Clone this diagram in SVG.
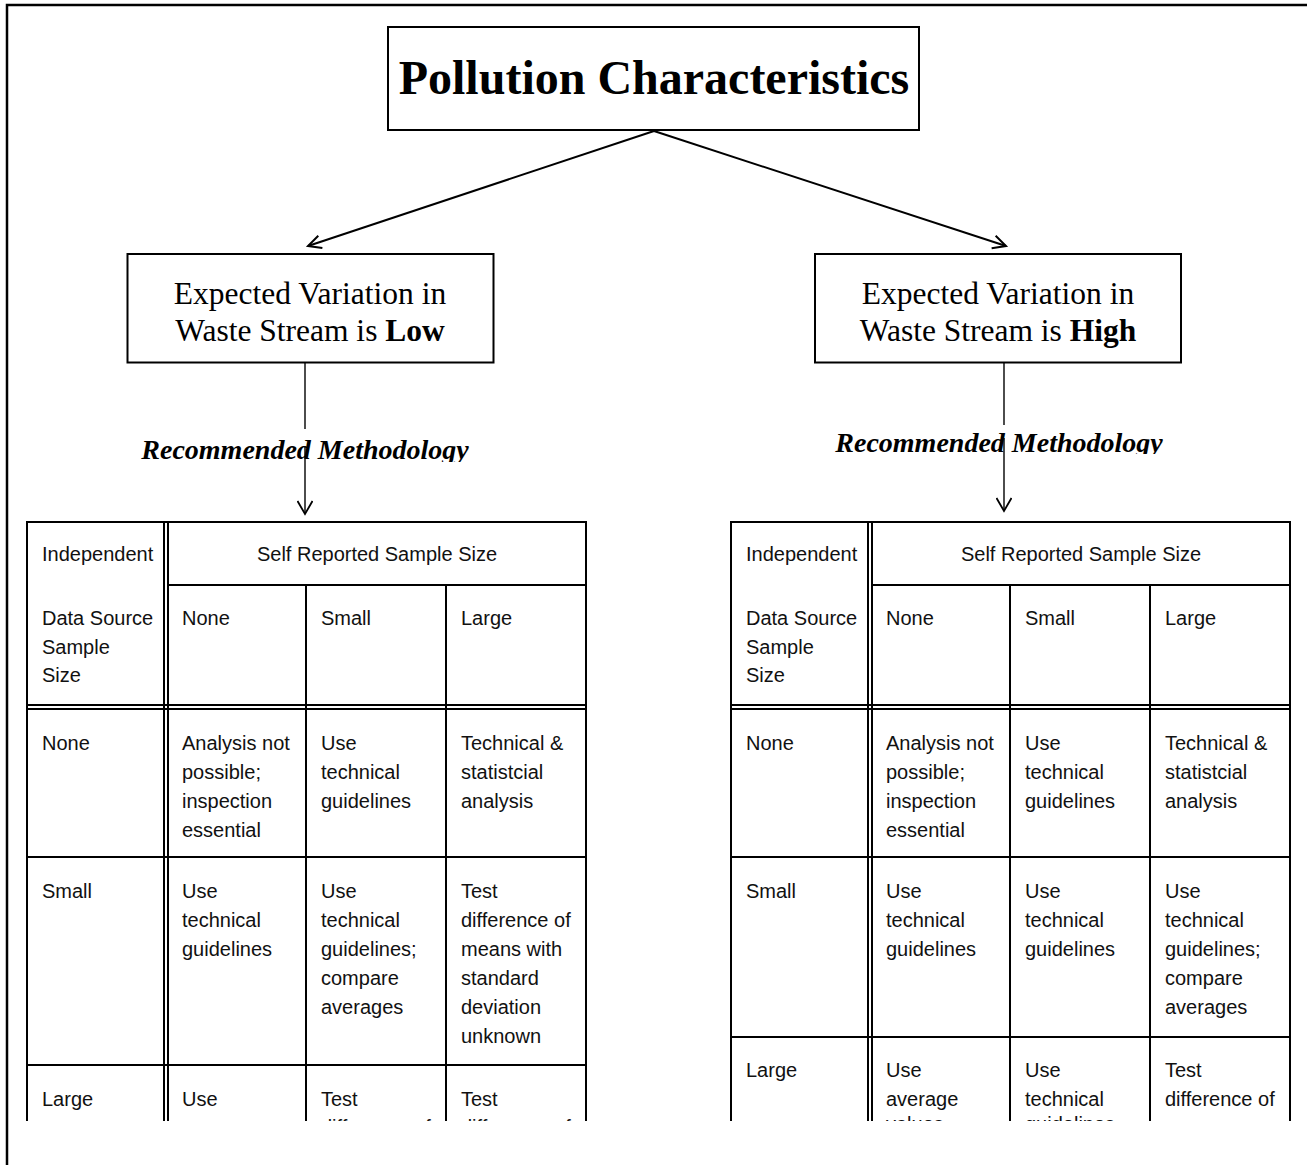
<svg xmlns="http://www.w3.org/2000/svg" width="1307" height="1165" viewBox="0 0 1307 1165">
<style>
.frame{fill:none;stroke:#000;stroke-width:2.5}
.box{fill:#fff;stroke:#000;stroke-width:2}
.tl{stroke:#000;stroke-width:2;fill:none}
.con{stroke:#000;stroke-width:2;fill:none}
.vcon{stroke:#000;stroke-width:1.4;fill:none}
.title{font-family:"Liberation Serif","Times New Roman",serif;font-weight:bold;font-size:48px;text-anchor:middle}
.bt{font-family:"Liberation Serif","Times New Roman",serif;font-size:31.5px;text-anchor:middle}
.rm{font-family:"Liberation Serif","Times New Roman",serif;font-weight:bold;font-style:italic;font-size:28px;text-anchor:middle}
.c{font-family:"Liberation Sans",Arial,sans-serif;font-size:20px;fill:#111}
.cm{font-family:"Liberation Sans",Arial,sans-serif;font-size:20px;fill:#111;text-anchor:middle}
</style>
<defs>
<marker id="ah" viewBox="0 0 16 16" refX="14" refY="8" markerWidth="16" markerHeight="16" markerUnits="userSpaceOnUse" orient="auto">
<path d="M1,1.5 L14,8 L1,14.5" fill="none" stroke="#000" stroke-width="2"/>
</marker>
<marker id="ahv" viewBox="0 0 16 16" refX="14" refY="8" markerWidth="16" markerHeight="16" markerUnits="userSpaceOnUse" orient="auto">
<path d="M1,0.5 L14,8 L1,15.5" fill="none" stroke="#000" stroke-width="1.8"/>
</marker>
<clipPath id="clipL"><rect x="100" y="420" width="420" height="42"/></clipPath>
<clipPath id="clipR"><rect x="800" y="420" width="420" height="34"/></clipPath>
<clipPath id="clipT"><rect x="0" y="500" width="1307" height="621"/></clipPath>
</defs>
<rect class="frame" x="7" y="5" width="1400" height="1300"/>
<g id="connectors">
<line class="con" x1="654" y1="131" x2="308" y2="246" marker-end="url(#ah)"/>
<line class="con" x1="654" y1="131" x2="1006" y2="246" marker-end="url(#ah)"/>
<line class="vcon" x1="305" y1="363" x2="305" y2="429"/>
<line class="vcon" x1="305" y1="446" x2="305" y2="514" marker-end="url(#ahv)"/>
<line class="vcon" x1="1004" y1="363" x2="1004" y2="425"/>
<line class="vcon" x1="1004" y1="438" x2="1004" y2="511" marker-end="url(#ahv)"/>
</g>
<g id="title">
<rect class="box" x="388" y="27" width="531" height="103"/>
<text class="title" x="654" y="94">Pollution Characteristics</text>
</g>
<g id="low">
<rect class="box" x="127.5" y="254" width="366" height="108.5"/>
<text class="bt" x="310" y="304">Expected Variation in</text>
<text class="bt" x="310" y="341">Waste Stream is <tspan font-weight="bold">Low</tspan></text>
</g>
<g id="high">
<rect class="box" x="815" y="254" width="366" height="108.5"/>
<text class="bt" x="998" y="304">Expected Variation in</text>
<text class="bt" x="998" y="341">Waste Stream is <tspan font-weight="bold">High</tspan></text>
</g>
<g id="method-low" clip-path="url(#clipL)">
<text class="rm" x="305" y="459">Recommended Methodology</text>
</g>
<g id="method-high" clip-path="url(#clipR)">
<text class="rm" x="999" y="452">Recommended Methodology</text>
</g>
<g id="table-low" clip-path="url(#clipT)">
<path class="tl" d="M27,1200 V522 H586 V1200 M164,522 V1200 M168,522 V1200 M168,585 H586 M306,585 V1200 M446,585 V1200 M27,705 H586 M27,709 H586 M27,857 H586 M27,1065 H586"/>
<text class="c" x="42" y="561">Independent</text>
<text class="cm" x="377" y="561">Self Reported Sample Size</text>
<text class="c" x="42" y="625">Data Source</text>
<text class="c" x="42" y="654">Sample</text>
<text class="c" x="42" y="682">Size</text>
<text class="c" x="182" y="625">None</text>
<text class="c" x="321" y="625">Small</text>
<text class="c" x="461" y="625">Large</text>
<text class="c" x="42" y="750">None</text>
<text class="c" x="182" y="750">Analysis not</text>
<text class="c" x="182" y="779">possible;</text>
<text class="c" x="182" y="808">inspection</text>
<text class="c" x="182" y="837">essential</text>
<text class="c" x="321" y="750">Use</text>
<text class="c" x="321" y="779">technical</text>
<text class="c" x="321" y="808">guidelines</text>
<text class="c" x="461" y="750">Technical &amp;</text>
<text class="c" x="461" y="779">statistcial</text>
<text class="c" x="461" y="808">analysis</text>
<text class="c" x="42" y="898">Small</text>
<text class="c" x="182" y="898">Use</text>
<text class="c" x="182" y="927">technical</text>
<text class="c" x="182" y="956">guidelines</text>
<text class="c" x="321" y="898">Use</text>
<text class="c" x="321" y="927">technical</text>
<text class="c" x="321" y="956">guidelines;</text>
<text class="c" x="321" y="985">compare</text>
<text class="c" x="321" y="1014">averages</text>
<text class="c" x="461" y="898">Test</text>
<text class="c" x="461" y="927">difference of</text>
<text class="c" x="461" y="956">means with</text>
<text class="c" x="461" y="985">standard</text>
<text class="c" x="461" y="1014">deviation</text>
<text class="c" x="461" y="1043">unknown</text>
<text class="c" x="42" y="1106">Large</text>
<text class="c" x="182" y="1106">Use</text>
<text class="c" x="321" y="1106">Test</text>
<text class="c" x="321" y="1134">difference of</text>
<text class="c" x="461" y="1106">Test</text>
<text class="c" x="461" y="1134">difference of</text>
</g>
<g id="table-high" clip-path="url(#clipT)">
<path class="tl" d="M731,1200 V522 H1290 V1200 M868,522 V1200 M872,522 V1200 M872,585 H1290 M1010,585 V1200 M1150,585 V1200 M731,705 H1290 M731,709 H1290 M731,857 H1290 M731,1037 H1290"/>
<text class="c" x="746" y="561">Independent</text>
<text class="cm" x="1081" y="561">Self Reported Sample Size</text>
<text class="c" x="746" y="625">Data Source</text>
<text class="c" x="746" y="654">Sample</text>
<text class="c" x="746" y="682">Size</text>
<text class="c" x="886" y="625">None</text>
<text class="c" x="1025" y="625">Small</text>
<text class="c" x="1165" y="625">Large</text>
<text class="c" x="746" y="750">None</text>
<text class="c" x="886" y="750">Analysis not</text>
<text class="c" x="886" y="779">possible;</text>
<text class="c" x="886" y="808">inspection</text>
<text class="c" x="886" y="837">essential</text>
<text class="c" x="1025" y="750">Use</text>
<text class="c" x="1025" y="779">technical</text>
<text class="c" x="1025" y="808">guidelines</text>
<text class="c" x="1165" y="750">Technical &amp;</text>
<text class="c" x="1165" y="779">statistcial</text>
<text class="c" x="1165" y="808">analysis</text>
<text class="c" x="746" y="898">Small</text>
<text class="c" x="886" y="898">Use</text>
<text class="c" x="886" y="927">technical</text>
<text class="c" x="886" y="956">guidelines</text>
<text class="c" x="1025" y="898">Use</text>
<text class="c" x="1025" y="927">technical</text>
<text class="c" x="1025" y="956">guidelines</text>
<text class="c" x="1165" y="898">Use</text>
<text class="c" x="1165" y="927">technical</text>
<text class="c" x="1165" y="956">guidelines;</text>
<text class="c" x="1165" y="985">compare</text>
<text class="c" x="1165" y="1014">averages</text>
<text class="c" x="746" y="1077">Large</text>
<text class="c" x="886" y="1077">Use</text>
<text class="c" x="886" y="1106">average</text>
<text class="c" x="886" y="1131">values</text>
<text class="c" x="1025" y="1077">Use</text>
<text class="c" x="1025" y="1106">technical</text>
<text class="c" x="1025" y="1131">guidelines</text>
<text class="c" x="1165" y="1077">Test</text>
<text class="c" x="1165" y="1106">difference of</text>
</g>
</svg>
